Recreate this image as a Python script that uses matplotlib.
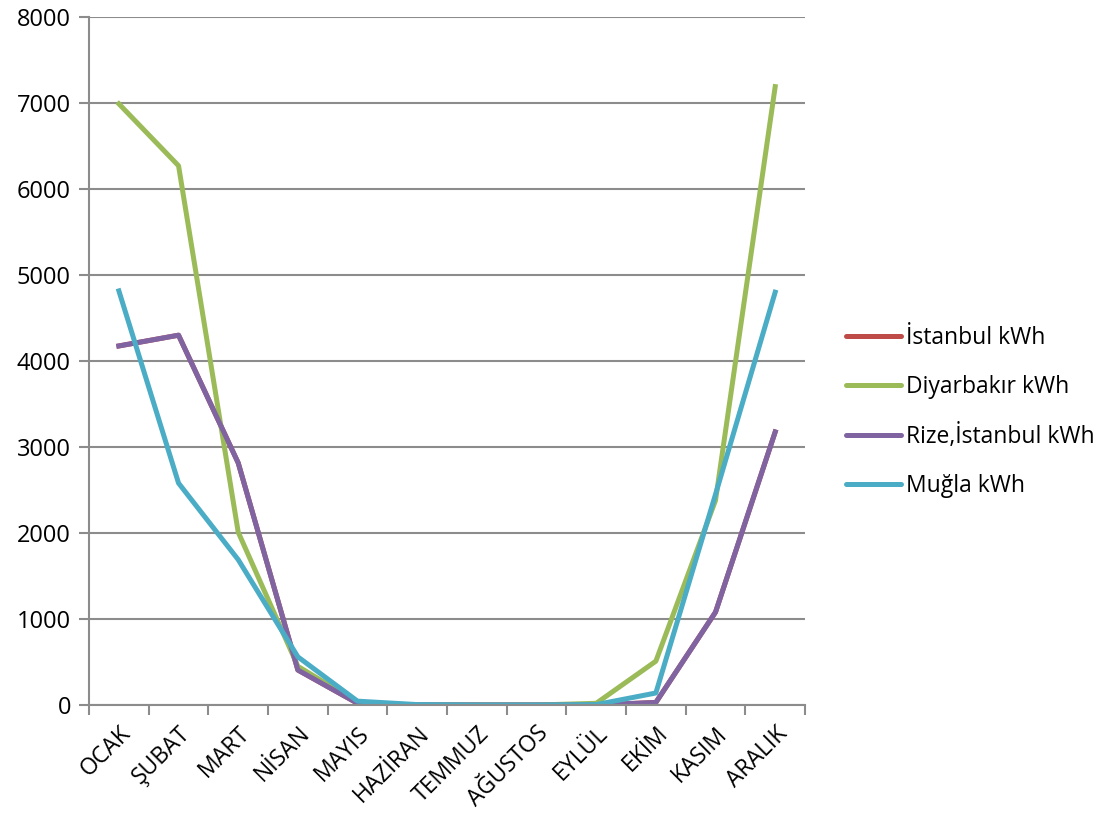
import numpy as np
import matplotlib.pyplot as plt

# Aylık ısınma enerjisi ihtiyacı (kWh)
aylar = ['OCAK', 'ŞUBAT', 'MART', 'NİSAN', 'MAYIS', 'HAZİRAN',
         'TEMMUZ', 'AĞUSTOS', 'EYLÜL', 'EKİM', 'KASIM', 'ARALIK']
istanbul = [4175, 4300, 2815, 407, 20, 0, 0, 0, 0, 30, 1080, 3175]
diyarbakir = [6990, 6270, 2010, 450, 30, 0, 0, 0, 20, 510, 2380, 7190]
rize_istanbul = [4175, 4300, 2815, 407, 20, 0, 0, 0, 0, 30, 1080, 3175]
mugla = [4815, 2580, 1690, 560, 45, 5, 0, 0, 5, 140, 2450, 4800]

plt.rcParams['font.family'] = ['Open Sans', 'DejaVu Sans']

fig = plt.figure(figsize=(11.09, 8.16), dpi=100)
ax = fig.add_axes([0.0803, 0.136, 0.6456, 0.8432])

x = np.arange(len(aylar))
ax.plot(x, istanbul, color='#BE4B48', lw=3.6, label='İstanbul kWh')
ax.plot(x, diyarbakir, color='#9BBB59', lw=3.6, label='Diyarbakır kWh')
ax.plot(x, rize_istanbul, color='#8064A2', lw=3.6, label='Rize,İstanbul kWh')
ax.plot(x, mugla, color='#4BACC6', lw=3.6, label='Muğla kWh')

ax.set_xlim(-0.5, 11.5)
ax.set_ylim(0, 8000)
ax.set_yticks(np.arange(0, 8001, 1000))
ax.yaxis.grid(True, color='#8c8c8c', lw=1.5)
ax.set_axisbelow(True)

# kategori etiketleri ortada, tik çizgileri sınırlarda
ax.set_xticks(x)
ax.set_xticklabels(aylar, rotation=45, ha='right', rotation_mode='anchor', fontsize=16.5)
ax.set_xticks(np.arange(-0.5, 12, 1), minor=True)
ax.tick_params(axis='x', which='major', length=0, pad=12)
ax.tick_params(axis='x', which='minor', length=7, width=1.5, color='#8c8c8c')
ax.tick_params(axis='y', length=7, width=1.5, color='#8c8c8c', labelsize=17, pad=6)

for s in ['top', 'right']:
    ax.spines[s].set_visible(False)
for s in ['left', 'bottom']:
    ax.spines[s].set_color('#8c8c8c')
    ax.spines[s].set_linewidth(1.5)

leg = ax.legend(loc='center left', bbox_to_anchor=(1.029, 0.426), frameon=False,
                fontsize=16.5, handlelength=2.4, handletextpad=0.2, labelspacing=1.1)
for h in leg.get_lines():
    h.set_linewidth(3.6)
    h.set_solid_capstyle('round')

fig.savefig('out.png', dpi=100)
